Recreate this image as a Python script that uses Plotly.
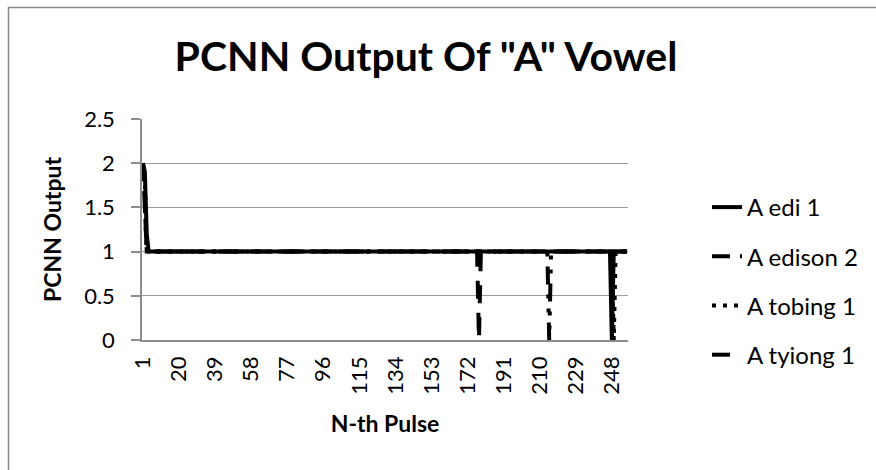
import plotly.graph_objects as go

# ---- data ----
pulses = list(range(1, 257))
tick_vals = [1, 20, 39, 58, 77, 96, 115, 134, 153, 172, 191, 210, 229, 248]
tick_text = [str(v) for v in tick_vals]
y_tick_vals = [0, 0.5, 1, 1.5, 2, 2.5]
y_tick_text = ["0", "0.5", "1", "1.5", "2", "2.5"]

series_names = ["A edi 1", "A edison 2", "A tobing 1", "A tyiong 1"]

a_edi_1 = [2, 1.9, 1.2] + [1] * 244 + [0] + [1] * 8
a_edison_2 = [2, 1.6, 1] + [1] * 211 + [0] + [1] * 41
a_tobing_1 = [2, 1.8, 1] + [1] * 245 + [0] + [1] * 7
a_tyiong_1 = [2, 1.4, 1] + [1] * 174 + [0] + [1] * 78

series_values = [a_edi_1, a_edison_2, a_tobing_1, a_tyiong_1]
series_dash = ["solid", "18px,10px,4px,10px,4px,10px", "4px,7px", "18px,14px"]

FONT = "Lato"
W, H = 876, 470
L, R, T, B = 142, 628, 119, 340  # plot area in pixels


def px_x(p):
    return (p - L) / (R - L)


def px_y(p):
    return (B - p) / (B - T)


fig = go.Figure()
for name, vals, dash in zip(series_names, series_values, series_dash):
    fig.add_trace(go.Scatter(
        x=pulses, y=vals, mode="lines", name=name, legendgroup=name,
        line=dict(color="black", width=4, dash=dash),
    ))

fig.update_layout(
    template="none",
    width=W, height=H,
    margin=dict(l=L, r=W - R, t=T, b=H - B, pad=0, autoexpand=False),
    paper_bgcolor="white", plot_bgcolor="white",
    font=dict(family=FONT, color="black", size=21),
    title=dict(text="<b>PCNN Output Of \"A\" Vowel</b>", x=px_x(426), xref="paper",
               xanchor="center", y=1 - 57 / H, yanchor="middle",
               font=dict(size=41, family=FONT, color="black")),
    showlegend=True,
    legend=dict(x=px_x(707), y=px_y(185), xanchor="left", yanchor="top",
                font=dict(size=24, family=FONT, color="black"),
                traceorder="grouped", tracegroupgap=15,
                bgcolor="rgba(0,0,0,0)", borderwidth=0),
    xaxis=dict(range=[0.5, 256.5], tickvals=tick_vals, ticktext=tick_text,
               tickangle=-90, showgrid=False, zeroline=False, automargin=False,
               showline=True, linecolor="#8c8c8c", linewidth=1.5,
               ticks="", tickfont=dict(size=22), ticklabelstandoff=6,
               title=dict(text="<b>N-th Pulse</b>", font=dict(size=23), standoff=22)),
    yaxis=dict(range=[0, 2.5], tickvals=y_tick_vals, ticktext=y_tick_text,
               showgrid=True, gridcolor="#9a9a9a", gridwidth=1.2, automargin=False,
               zeroline=False, showline=True, linecolor="#8c8c8c", linewidth=1.5,
               ticks="outside", ticklen=9, tickcolor="#8c8c8c", tickwidth=1.5,
               tickfont=dict(size=22), ticklabelstandoff=12,
               title=dict(text="<b>PCNN Output</b>", font=dict(size=23), standoff=16)),
    shapes=[dict(type="rect", xref="paper", yref="paper",
                 x0=px_x(8.5), x1=px_x(890), y0=px_y(7.5), y1=px_y(490),
                 line=dict(color="#888888", width=1.5), fillcolor="rgba(0,0,0,0)",
                 layer="below")],
)

fig.write_html(
    "out.html",
    config={"displayModeBar": False},
    post_script="document.body.style.margin='0';document.body.style.overflow='hidden';",
)
